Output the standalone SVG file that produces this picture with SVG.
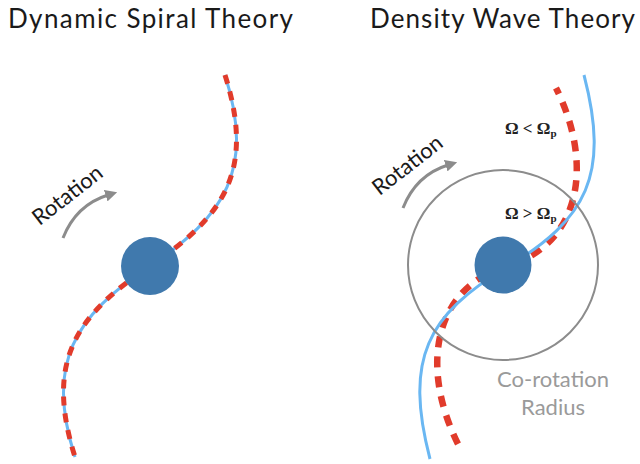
<svg xmlns="http://www.w3.org/2000/svg" width="640" height="464" viewBox="0 0 640 464">
<defs>
<style>
.title{font-family:Lato,"Open Sans","Liberation Sans",sans-serif;font-size:26px;fill:#1a1a1a}
.rot{font-family:Lato,"Open Sans","Liberation Sans",sans-serif;font-size:22px;fill:#1a1a1a}
.arm{fill:none;stroke:#6ab7f2;stroke-width:3}
.redL{fill:none;stroke:#e13b2b;stroke-width:5;stroke-dasharray:9 8}
.redR{fill:none;stroke:#e13b2b;stroke-width:6.5;stroke-dasharray:11 9}
.core{fill:#4079ad}
.arc{fill:none;stroke:#8c8c8c;stroke-width:3;marker-end:url(#ah)}
.omega{font-family:"Liberation Serif","DejaVu Serif",serif;font-size:17px;font-weight:bold;fill:#222}
.co{font-family:Lato,"Open Sans","Liberation Sans",sans-serif;font-size:22px;fill:#9a9a9a;text-anchor:middle}
</style>
<marker id="ah" viewBox="0 0 10 10" refX="2" refY="5" markerWidth="4" markerHeight="4" orient="auto" markerUnits="strokeWidth">
<path d="M0,0 L10,5 L0,10 z" fill="#8c8c8c"/>
</marker>
</defs>
<rect width="640" height="464" fill="#ffffff"/>
<g id="title-left"><text class="title" x="8" y="28" textLength="285" lengthAdjust="spacing">Dynamic Spiral Theory</text></g>
<g id="title-right"><text class="title" x="370" y="28" textLength="265" lengthAdjust="spacing">Density Wave Theory</text></g>
<g id="connectors">
<path class="arm" d="M75,457 C45,362 75,316 150,266 C225,216 255,170 225,75"/>
<path class="redL" d="M225,75 C255,170 225,216 150,266 C75,316 45,362 75,457"/>
<path class="redR" d="M458,444 C420.5,369 432,288.5 507,266 C582,243.5 593.5,163 556,88"/>
<path class="arm" d="M430,459 C404,359 427,315 507,267 C587,219 610,175 584,75"/>
<path class="arc" d="M63,238 Q76,205 108,195"/>
<path class="arc" d="M403,208 Q416,175 448,165"/>
</g>
<g id="corotation-circle"><circle cx="503" cy="265" r="95" fill="none" stroke="#8c8c8c" stroke-width="2"/></g>
<g id="core-left"><circle class="core" cx="150" cy="266" r="29"/></g>
<g id="core-right"><circle class="core" cx="503" cy="265" r="28.5"/></g>
<g id="rotation-left"><text class="rot" transform="translate(72,201) rotate(-38)" text-anchor="middle">Rotation</text></g>
<g id="rotation-right"><text class="rot" transform="translate(412,171) rotate(-38)" text-anchor="middle">Rotation</text></g>
<g id="label-outer"><text class="omega" x="505" y="134">Ω &lt; Ω<tspan font-size="11" dy="3">p</tspan></text></g>
<g id="label-inner"><text class="omega" x="505" y="219">Ω &gt; Ω<tspan font-size="11" dy="3">p</tspan></text></g>
<g id="corotation-label"><text class="co" x="553" y="387">Co-rotation</text><text class="co" x="553" y="415">Radius</text></g>
</svg>
